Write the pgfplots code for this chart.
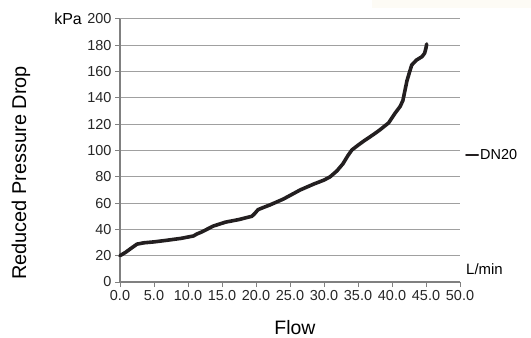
\documentclass[border=0pt]{standalone}
\usepackage{pgfplots}
\pgfplotsset{compat=1.18}
\usepackage{fontspec}
\setmainfont{Liberation Sans}
\definecolor{curve}{HTML}{231F20}
\definecolor{gridc}{HTML}{A0A0A0}
\definecolor{axc}{HTML}{808080}
\definecolor{beige}{HTML}{FDFBF5}
\begin{document}
\begin{tikzpicture}
\useasboundingbox (0,0) rectangle (531bp,338bp);
\fill[beige] (372bp,330bp) rectangle (531bp,338bp);
\begin{axis}[
  at={(120bp,56bp)}, anchor=south west,
  scale only axis, width=340bp, height=263bp,
  xmin=0, xmax=50, ymin=0, ymax=200,
  xtick={0,5,...,50}, ytick={0,20,...,200},
  axis x line*=bottom, axis y line*=left,
  ymajorgrids, grid style={color=gridc, line width=1bp},
  axis line style={color=axc, line width=1.5bp},
  tick style={color=axc, line width=1bp},
  tick align=outside, major tick length=5bp,
  /pgf/number format/assume math mode=true,
  xticklabel style={/pgf/number format/.cd, fixed, fixed zerofill, precision=1},
  ticklabel style={font=\fontsize{14.5}{16}\selectfont, color=black!85},
  clip=false,
  legend style={at={(axis cs:50,96.5)}, xshift=5bp, anchor=west, draw=none, fill=none,
    inner sep=0pt, font=\fontsize{14.5}{16}\selectfont, nodes={inner sep=1bp}},
  legend image code/.code={\draw[line width=2bp, color=curve] (0bp,0bp) -- (12bp,0bp);},
]
\addplot[color=curve, line width=3.6bp, line join=round, line cap=round] coordinates {
(0,20) (0.8,22.5) (1.6,25.5) (2.5,28.8) (3.5,29.8) (5,30.5) (7,31.8) (9,33.2)
(10.8,35) (11.3,36.5) (12,38) (13.7,42.5) (15.5,45.5) (17.5,47.5) (19.4,50)
(19.8,52) (20.3,55) (21,56.5) (22,58.5) (24,63) (26.5,70) (28.5,74.5) (30,77.5)
(30.9,80) (31.9,84.5) (32.8,90) (33.5,96) (34.1,100.4) (35,104) (35.8,107)
(36.8,110.5) (37.5,113) (38.2,115.6) (39.5,121) (40.4,128) (41.2,133.5)
(41.6,138) (42.2,153) (42.6,160) (42.9,165) (43.6,168.8) (44.4,171.3)
(44.8,174) (45,178) (45.1,181)
};
\addlegendentry{DN20}
\end{axis}
\node[anchor=east, font=\fontsize{16}{18}\selectfont, inner sep=0pt] at (82bp,319bp) {kPa};
\node[anchor=west, font=\fontsize{15}{17}\selectfont, inner sep=0pt] at (466bp,69bp) {L/min};
\node[anchor=base, font=\fontsize{19.5}{21}\selectfont, inner sep=0pt] at (295bp,4bp) {Flow};
\node[rotate=90, anchor=base, font=\fontsize{20}{22}\selectfont, inner sep=0pt] at (26bp,165bp) {Reduced Pressure Drop};
\end{tikzpicture}
\end{document}
